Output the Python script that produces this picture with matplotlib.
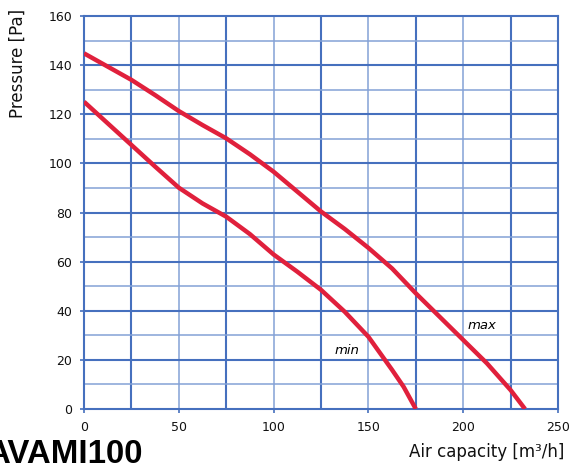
import numpy as np
import matplotlib
matplotlib.use('Agg')
import matplotlib.pyplot as plt

plt.rcParams['font.family'] = ['DejaVu Sans']

# Curve data (air capacity m3/h, pressure Pa)
max_x = [0, 12.5, 25, 37.5, 50, 62.5, 75, 87.5, 100, 112.5, 125, 137.5, 150,
         162.5, 175, 187.5, 200, 212.5, 225, 232.6]
max_y = [144.8, 139.4, 134, 127.8, 121.3, 115.6, 110.2, 103.7, 96.6, 88.5, 80.4,
         73.3, 65.6, 57.2, 47.1, 37.6, 28.1, 18.6, 7.7, 0]

min_x = [0, 12.5, 25, 37.5, 50, 62.5, 75, 87.5, 100, 112.5, 125, 137.5, 150,
         162.5, 168.6, 175]
min_y = [125.1, 116.3, 107.5, 98.7, 90.1, 83.7, 78.3, 71.2, 62.9, 55.9, 48.5,
         39.6, 29.4, 15.9, 9, 0]

x_ticks = [0, 50, 100, 150, 200, 250]
y_ticks = [0, 20, 40, 60, 80, 100, 120, 140, 160]

grid_dark = '#4670be'
grid_light = '#84a2d6'
curve_col = '#e0203c'

fig = plt.figure(figsize=(5.7, 4.63), dpi=100)
ax = fig.add_axes([0.1474, 0.1166, 0.8316, 0.8488])
ax.set_xlim(0, 250)
ax.set_ylim(0, 160)

# grid: odd multiples of 25 and multiples of 20 are drawn heavier
for gx in np.arange(25, 250, 25):
    heavy = (gx / 25) % 2 == 1
    ax.axvline(gx, color=grid_dark if heavy else grid_light,
               lw=1.5 if heavy else 1.1, zorder=1)
for gy in np.arange(10, 160, 10):
    heavy = gy % 20 == 0
    ax.axhline(gy, color=grid_dark if heavy else grid_light,
               lw=1.5 if heavy else 1.1, zorder=1)

ax.plot(max_x, max_y, color=curve_col, lw=3.2, solid_capstyle='butt',
        solid_joinstyle='round', zorder=3)
ax.plot(min_x, min_y, color=curve_col, lw=3.2, solid_capstyle='butt',
        solid_joinstyle='round', zorder=3)

ax.text(209.7, 33.8, 'max', style='italic', fontsize=9.5, ha='center', va='center')
ax.text(138.5, 24, 'min', style='italic', fontsize=9.5, ha='center', va='center')

for s in ax.spines.values():
    s.set_color(grid_dark)
    s.set_linewidth(1.5)

ax.set_xticks(x_ticks)
ax.set_yticks(y_ticks)
ax.tick_params(colors=grid_dark, length=3, width=1.2, labelcolor='#111111',
               labelsize=9, pad=5.5)

fig.text(0.0316, 0.864, 'Pressure [Pa]', rotation=90, ha='center', va='center',
         fontsize=12, color='#111111')
fig.text(0.99, 0.013, 'Air capacity [m³/h]', ha='right', va='baseline',
         fontsize=12, color='#111111')
fig.text(-0.0246, -0.001, 'AVAMI100', ha='left', va='baseline', fontsize=23.8,
         fontweight='bold', color='black', family='Liberation Sans')

fig.savefig('out.png', dpi=100)
